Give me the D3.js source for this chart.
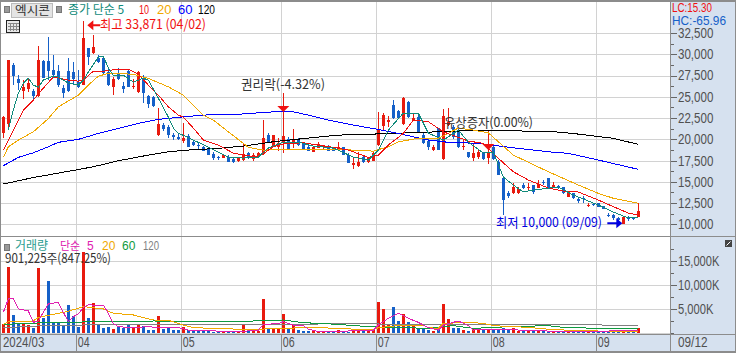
<!DOCTYPE html>
<html>
<head>
<meta charset="utf-8">
<style>
  html, body { margin: 0; padding: 0; background: #fff; overflow: hidden; }
  svg { display: block; }
  text { font-family: "Liberation Sans", sans-serif; }
  .kr { font-family: "Noto Sans CJK KR", sans-serif; }
</style>
<script src="https://cdn.jsdelivr.net/npm/d3@7"></script>
</head>
<body>
<div id="chart"></div>
<script>
// daily candles, 128 trading days, values in won
const openPrices = [
  20730,21790,28720,27070,25660,25900,25660,25080,29190,29190,
  28130,28010,26020,28010,27900,26720,26370,30720,30130,29540,
  29540,27900,26130,27660,26250,28010,26130,25550,27070,25080,
  24960,20490,21670,21430,20490,20260,19790,20380,19670,19320,
  19080,18850,18260,17910,17790,17910,17670,17440,17560,18380,
  17670,17910,18260,20490,19200,19080,19550,20020,19670,20020,
  19550,19080,18500,18970,19080,19080,18970,18970,19080,18140,
  16970,16850,17910,17320,17440,19320,21550,22020,24020,23310,
  21790,24370,22260,22610,20490,19790,18730,21320,17670,21670,
  21430,21080,19080,18500,17790,17910,18380,17790,19080,17320,
  15440,13680,13680,13680,14620,14270,14620,14270,14970,15440,
  14380,14500,14380,13210,13680,12970,13090,12150,12385,12500,
  12150,11090,11090,10740,10000,10860,10740,10860];
const highPrices = [
  22730,29310,28950,27540,26960,27070,25900,30950,29310,32010,
  29890,28720,26370,29540,29070,28130,33871,30720,32240,29890,
  29780,28370,27310,28370,26720,28250,27070,28010,27540,25190,
  25080,23660,21900,21670,20730,20730,21900,20610,19790,19550,
  19200,18970,18500,18030,18140,18140,17910,17910,19550,18500,
  18380,18500,22260,20730,20490,20140,25430,20260,21200,20140,
  19670,19320,19200,19670,19320,19320,19080,19670,19080,18380,
  17910,18500,18030,17910,18500,23200,23080,22730,24610,23430,
  24960,24490,23080,23080,20730,20140,19320,21320,23550,23660,
  21670,21200,20020,18500,19440,18730,18500,21080,19320,17560,
  15440,13910,14850,14380,14850,14850,14620,15210,15210,15440,
  14970,14620,14380,13910,13680,13090,13320,12500,12500,12500,
  12150,11330,11210,10860,10860,10975,10860,12500];
const lowPrices = [
  20140,21320,26370,25780,24720,25550,24610,24960,27190,26960,
  27190,26130,24840,25550,26370,26020,26370,28720,30010,28950,
  27660,26250,25190,26960,25430,26130,25900,25430,24250,23660,
  23780,20380,20960,20140,19910,19910,19550,19080,19200,18850,
  18610,18140,17560,17560,17790,17320,17200,17320,17440,17670,
  17440,17790,18140,19550,19080,18610,18380,18730,18970,19200,
  18850,18610,18500,18970,18730,18610,18610,18610,18140,17200,
  16500,16730,17200,17200,17440,19200,20960,21430,22380,22380,
  21670,22490,22140,20730,19440,18730,18610,18730,17560,21550,
  20020,18970,18730,17790,17440,17670,17560,17090,17560,15790,
  11090,13090,13560,13560,14150,14030,13560,14270,14620,14150,
  14270,14150,13560,13210,12970,12500,12500,12030,12150,12030,
  11800,10860,10505,10390,10000,10390,10505,10860];
const closePrices = [
  22610,29310,27430,26600,26130,26600,25080,29310,27190,28010,
  27540,26370,25430,25660,27070,26130,31890,29660,30830,29070,
  27780,26370,27070,27070,25900,26130,26250,27900,25430,24130,
  23900,21790,21200,20490,20260,20020,20140,19080,19320,19200,
  18610,18140,17790,17790,18140,17320,17320,17790,18260,17790,
  18140,18380,20140,19550,20490,19550,20380,18730,19910,19320,
  18850,18610,19080,19440,19320,18610,18610,19080,18140,17200,
  17200,17320,17320,17790,18380,21080,22840,22260,22490,22490,
  24840,22610,22490,20730,19550,19080,19080,18730,22730,22020,
  20260,19080,19200,17910,18380,18500,17670,18380,17670,15790,
  12850,13320,14380,14150,14270,14380,13800,14740,14850,14150,
  14620,14270,13680,13680,13090,12740,12970,12270,12270,12030,
  11800,10975,10740,10505,10860,10620,10620,11530];

// volume in thousands of shares
const volumes = [
  1750,13800,3700,1960,1890,1610,1050,13580,3150,10850,
  1960,2170,1610,5810,3570,1190,16940,3080,6160,1610,
  1050,1190,770,1260,910,1750,1050,1750,1330,560,
  560,3500,770,1050,630,630,1190,630,350,350,
  490,490,210,210,280,280,280,280,1750,350,
  420,350,7070,770,840,910,3920,840,1890,560,
  350,420,350,210,210,210,210,560,210,210,
  840,420,420,420,630,6440,4970,1680,5390,2450,
  3920,2240,1470,1050,770,560,350,910,6020,2870,
  980,1050,560,350,980,910,700,840,700,630,
  910,560,910,350,350,420,420,560,560,210,
  200,150,200,200,200,150,150,100,100,150,
  100,100,100,100,200,100,100,901];

// moving averages at the days where they bend
const ma5Days = [1,2,3,4,5,6,7,8,10,11,13,15,16,17,19,20,21,22,24,26,28,29,31,33,34,35,38,41,43,45,48,51,53,56,59,62,66,70,73,75,77,80,83,85,88,91,93,96,98,100,102,104,106,111,114,119,122,125,127];
const ma5Values = [21080,23430,25430,26600,27190,26370,26130,26960,27430,27310,26600,26370,26960,27900,29660,29780,28370,27540,27540,26720,27190,26960,24840,22610,21320,20730,19910,19080,18500,17910,17790,17910,18970,19670,19670,19200,18970,17910,17560,18730,21080,23080,23080,20730,19910,21080,19670,18380,18500,15560,14620,13800,14030,14380,13440,12270,11450,10740,10860];
const ma10Days = [0,2,4,6,8,10,13,15,16,18,20,23,25,27,29,31,33,35,36,38,40,43,46,48,51,54,56,60,63,66,69,73,75,77,80,82,85,88,93,96,99,102,105,109,112,115,119,122,125,127];
const ma10Values = [18730,21080,23430,24610,26020,27340,26960,26840,26960,28010,28010,28250,28250,27660,26370,25190,23820,22840,22610,21320,19910,19320,18380,18140,17910,19120,19440,19590,19320,19050,18730,17870,18140,19320,20690,22260,22060,20880,19790,19520,17760,16180,15210,14270,13910,13800,12860,12070,11330,11090];
const ma20Days = [0,1,3,6,9,11,15,17,19,21,26,29,33,36,37,40,42,45,48,49,52,60,67,74,77,79,83,87,91,94,97,99,102,109,115,119,122,127];
const ma20Values = [17870,19120,19910,20880,22430,23820,25190,26370,27430,27740,27660,27160,26170,25190,24610,22840,22260,20880,19520,19050,18730,18810,18810,18610,19120,19710,20110,20110,21320,21080,20760,19710,18140,16180,14620,13640,13060,12470];
const ma60Days = [0,3,6,9,11,15,19,23,27,31,36,41,47,54,58,61,65,70,75,79,82,85,89,95,102,109,113,119,127];
const ma60Values = [16890,17870,18410,19120,19640,19990,20690,21280,21870,22340,22640,22880,22940,23230,23230,22840,22260,21670,21160,20690,20290,19910,19640,19520,19000,18530,18340,17560,16460];
const ma120Days = [0,6,15,18,23,29,33,37,43,48,54,61,67,74,81,87,96,102,111,115,122,127];
const ma120Values = [14740,15500,16440,16770,17470,18140,18530,18730,18930,19200,19710,20140,20490,20610,20760,20880,21080,21000,20850,20610,20110,19400];

// volume moving averages
const volMa5Days = [0,1,2,3,4,5,6,7,8,9,11,12,13,14,15,16,17,20,21,22,23,26,29,31,35,37,40,48,49,51,52,55,56,58,60,61,63,69,70,74,75,77,79,81,83,85,87,88,91,93,94,97,102,104,109,119,127];
const volMa5Values = [4270,7070,7210,4970,4760,4550,2170,2450,4270,6020,6370,4270,2310,3360,3920,5320,5810,5740,4060,1960,1260,1050,1260,1050,1050,560,420,210,420,560,1750,1890,2310,1610,1470,770,210,350,490,490,1610,3010,4060,3010,2170,1050,560,1610,2450,1470,560,630,700,420,350,280,560];
const volMa20Days = [0,1,6,7,11,13,16,20,22,26,30,33,36,38,48,52,55,58,62,68,71,74,75,80,84,85,87,88,94,97,98,105,110,119,127];
const volMa20Values = [1750,2310,2450,3220,4060,4480,5460,4970,4060,3710,2660,2590,1610,1050,700,770,910,980,1120,840,700,630,1050,1610,1610,1050,910,1960,2170,1750,1470,1120,630,350,350];
const volMa60Days = [0,6,8,15,18,22,26,30,48,52,56,58,60,67,70,75,85,90,94,97,101,109,112,119,127];
const volMa60Values = [1750,1960,2170,2170,2450,2310,2240,2450,2310,2590,2660,2380,2100,1750,1470,1190,910,1470,910,1050,1260,1470,1120,910,840];
const volMa120Days = [0,8,16,23,32,48,56,70,80,97,119,120,127];
const volMa120Values = [1050,1470,1610,1750,1610,1750,1750,1890,1750,1750,1750,1540,1470];

// axis labels
const priceTicks = [10000,12500,15000,17500,20000,22500,25000,27500,30000,32500];
const priceMinorTicks = [11250,13750,16250,18750,21250,23750,26250,28750,31250];
const volumeTicks = [5000,10000,15000];
const volumeMinorTicks = [2500,7500,12500,17500];
const monthStartDays = [0,15,36,56,75,98,119];
const monthLabels = ['2024/03','04','05','06','07','08','09'];
const lastDate = '09/12';

const CONFIG = {
    WIDTH: 736,
    HEIGHT: 353,
    AXIS_X: 670,        // left edge of the right axis panel
    PANE_SPLIT: 236,    // line between price and volume panes
    DATE_TOP: 334,

    UP_COLOR: '#e81a0e',
    DOWN_COLOR: '#1560c8',
    PANEL_COLOR: '#d6e1ef',
    GRID_COLOR: '#d2d2d2',
    FRAME_COLOR: '#8c8c8c',
    TEXT_COLOR: '#505050',
};

// scales
const x = d3.scaleLinear().domain([0, 127]).range([3.33, 638.33]);
const yPrice = d3.scaleLinear().domain([10000, 32500]).range([224.3, 33]);
const yVolume = d3.scaleLinear().domain([0, 15000]).range([332.7, 261]);

const svg = d3.select('#chart').append('svg')
  .attr('width', CONFIG.WIDTH)
  .attr('height', CONFIG.HEIGHT);

const days = d3.range(openPrices.length);

drawPanels();
drawGrid();
drawCandles();
drawVolume();
drawMovingAverages();
drawAxes();
drawLegends();
drawNotes();
drawFrame();

function pixel(v) {
    return Math.round(v) + 0.5;
}

function drawPanels() {
    svg.append('rect').attr('x', CONFIG.AXIS_X).attr('y', 0)
      .attr('width', CONFIG.WIDTH - CONFIG.AXIS_X).attr('height', CONFIG.HEIGHT)
      .attr('fill', CONFIG.PANEL_COLOR);
    svg.append('rect').attr('x', 0).attr('y', CONFIG.DATE_TOP)
      .attr('width', CONFIG.WIDTH).attr('height', CONFIG.HEIGHT - CONFIG.DATE_TOP)
      .attr('fill', CONFIG.PANEL_COLOR);
}

function drawGrid() {
    const grid = svg.append('g').attr('stroke', CONFIG.GRID_COLOR).attr('shape-rendering', 'crispEdges');

    grid.selectAll('line.price').data(priceTicks).join('line')
      .attr('class', 'price')
      .attr('x1', 0).attr('x2', CONFIG.AXIS_X)
      .attr('y1', d => pixel(yPrice(d))).attr('y2', d => pixel(yPrice(d)));

    grid.selectAll('line.volume').data([0].concat(volumeTicks)).join('line')
      .attr('class', 'volume')
      .attr('x1', 0).attr('x2', CONFIG.AXIS_X)
      .attr('y1', d => pixel(yVolume(d))).attr('y2', d => pixel(yVolume(d)));

    // month lines, the month starts between two candles
    grid.selectAll('line.month').data(monthStartDays.slice(1)).join('line')
      .attr('class', 'month')
      .attr('x1', d => pixel(x(d) - 2)).attr('x2', d => pixel(x(d) - 2))
      .attr('y1', 0).attr('y2', CONFIG.DATE_TOP);
}

function drawCandles() {
    const candles = svg.append('g').attr('shape-rendering', 'crispEdges');
    const color = i => closePrices[i] >= openPrices[i] ? CONFIG.UP_COLOR : CONFIG.DOWN_COLOR;

    // wick
    candles.selectAll('line').data(days).join('line')
      .attr('x1', i => Math.floor(x(i)) + 0.5)
      .attr('x2', i => Math.floor(x(i)) + 0.5)
      .attr('y1', i => Math.round(yPrice(highPrices[i])))
      .attr('y2', i => Math.round(yPrice(lowPrices[i])))
      .attr('stroke', color);

    // body
    candles.selectAll('rect').data(days).join('rect')
      .attr('x', i => Math.floor(x(i)) - 1)
      .attr('width', 3)
      .attr('y', i => Math.round(yPrice(Math.max(openPrices[i], closePrices[i]))))
      .attr('height', i => Math.max(1, Math.round(Math.abs(yPrice(openPrices[i]) - yPrice(closePrices[i])))))
      .attr('fill', color);
}

function drawVolume() {
    svg.append('g').attr('shape-rendering', 'crispEdges')
      .selectAll('rect').data(days).join('rect')
      .attr('x', i => Math.floor(x(i)) - 1)
      .attr('width', 3)
      .attr('y', i => Math.round(yVolume(volumes[i])))
      .attr('height', i => Math.max(1, Math.round(yVolume(0)) - Math.round(yVolume(volumes[i]))))
      .attr('fill', i => closePrices[i] >= openPrices[i] ? CONFIG.UP_COLOR : CONFIG.DOWN_COLOR);
}

function drawLine(dayList, values, y, color) {
    const line = d3.line().x(i => x(dayList[i])).y(i => y(values[i]));
    svg.append('path')
      .attr('d', line(d3.range(dayList.length)))
      .attr('fill', 'none')
      .attr('stroke', color)
      .attr('stroke-width', 1)
      .attr('shape-rendering', 'crispEdges');
}

function drawMovingAverages() {
    drawLine(ma120Days, ma120Values, yPrice, '#000000');
    drawLine(ma60Days, ma60Values, yPrice, '#0000ff');
    drawLine(ma20Days, ma20Values, yPrice, '#f0a800');
    drawLine(ma10Days, ma10Values, yPrice, '#f01010');
    drawLine(ma5Days, ma5Values, yPrice, '#0f8a7a');

    drawLine(volMa120Days, volMa120Values, yVolume, '#808080');
    drawLine(volMa60Days, volMa60Values, yVolume, '#0f9a40');
    drawLine(volMa20Days, volMa20Values, yVolume, '#f0a800');
    drawLine(volMa5Days, volMa5Values, yVolume, '#e020b0');
}

function drawAxes() {
    const axisLeft = CONFIG.AXIS_X + 1;

    // reference digits are tall and narrow, so squeeze them to about 6px a character
    function squeeze(sel) {
        sel.attr('fill', CONFIG.TEXT_COLOR)
          .style('font-size', '14px')
          .attr('lengthAdjust', 'spacingAndGlyphs')
          .attr('textLength', function () { return this.textContent.length * 5.9; });
    }

    function styleAxis(g) {
        g.select('.domain').remove();
        g.selectAll('line').attr('stroke', '#666').attr('shape-rendering', 'crispEdges');
        g.selectAll('text').call(squeeze);
    }

    svg.append('g').attr('transform', `translate(${axisLeft},0)`)
      .call(d3.axisRight(yPrice).tickValues(priceTicks).tickSize(6).tickPadding(1).tickFormat(d3.format(',')))
      .call(styleAxis);
    svg.append('g').attr('transform', `translate(${axisLeft},0)`)
      .call(d3.axisRight(yPrice).tickValues(priceMinorTicks).tickSize(3).tickFormat(''))
      .call(styleAxis);

    svg.append('g').attr('transform', `translate(${axisLeft},0)`)
      .call(d3.axisRight(yVolume).tickValues(volumeTicks).tickSize(6).tickPadding(1).tickFormat(d => d3.format(',')(d) + 'K'))
      .call(styleAxis);
    svg.append('g').attr('transform', `translate(${axisLeft},0)`)
      .call(d3.axisRight(yVolume).tickValues(volumeMinorTicks.concat([0])).tickSize(3).tickFormat(''))
      .call(styleAxis);

    // date axis
    const dateAxis = svg.append('g');
    dateAxis.selectAll('line').data(monthStartDays.slice(1)).join('line')
      .attr('x1', d => pixel(x(d) - 2)).attr('x2', d => pixel(x(d) - 2))
      .attr('y1', CONFIG.DATE_TOP).attr('y2', CONFIG.HEIGHT - 2)
      .attr('stroke', CONFIG.FRAME_COLOR)
      .attr('shape-rendering', 'crispEdges');

    dateAxis.selectAll('text').data(monthStartDays).join('text')
      .attr('x', d => d === 0 ? 3 : x(d) - 0.5)
      .attr('y', 347)
      .text((d, i) => monthLabels[i])
      .call(squeeze);

    dateAxis.append('text').attr('x', 678).attr('y', 347)
      .text(lastDate)
      .call(squeeze);
}

function addText(str, px, py, color, size, cls, fit) {
    const t = svg.append('text')
      .attr('x', px).attr('y', py)
      .attr('fill', color)
      .style('font-size', size + 'px')
      .text(str);
    if (cls) t.attr('class', cls);
    if (fit) t.attr('textLength', fit).attr('lengthAdjust', 'spacingAndGlyphs');
    return t;
}

function drawLegends() {
    // gray squares
    [[4, 3], [56, 3], [4, 241]].forEach(p => {
        svg.append('rect').attr('x', p[0]).attr('y', p[1] + 3).attr('width', 5).attr('height', 6)
          .attr('fill', '#999').attr('stroke', '#777').attr('shape-rendering', 'crispEdges');
    });

    // stock name button
    svg.append('rect').attr('x', 11.5).attr('y', 3.5).attr('width', 41).attr('height', 14)
      .attr('fill', '#e4e4e4').attr('stroke', '#bbbbbb').attr('shape-rendering', 'crispEdges');
    addText('엑시콘', 15, 15, '#333333', 12, 'kr', 35);

    addText('종가 단순 5', 68, 14, '#0f8a7a', 12, 'kr');
    addText('10', 139, 14, '#f01010', 13, null, 10);
    addText('20', 157, 14, '#f0a800', 13);
    addText('60', 178, 14, '#0000ff', 13);
    addText('120', 198, 14, '#000000', 13, null, 17);

    addText('거래량', 15, 250, '#2a9d8f', 12, 'kr');
    addText('단순', 60, 250, '#e020b0', 11, 'kr');
    addText('5', 87, 250, '#e020b0', 12);
    addText('20', 102, 250, '#f0a800', 12);
    addText('60', 122, 250, '#0f9a40', 12);
    addText('120', 143, 250, '#808080', 12, null, 16);
    addText('901,225주(847.25%)', 5, 263, '#333333', 13, 'kr', 106);

    addText('LC:15.30', 672, 12, '#f01010', 13, null, 40);
    addText('HC:-65.96', 672, 25, '#1560c8', 13, null, 54);

    // table icon
    svg.append('rect').attr('x', 6.5).attr('y', 20.5).attr('width', 13).attr('height', 12)
      .attr('fill', '#e8e8e8').attr('stroke', '#222').attr('shape-rendering', 'crispEdges');
    [10.5, 13.5, 16.5].forEach(px => {
        svg.append('line').attr('x1', px).attr('x2', px).attr('y1', 23).attr('y2', 31)
          .attr('stroke', '#888').attr('shape-rendering', 'crispEdges');
    });
    [23.5, 26.5, 29.5].forEach(py => {
        svg.append('line').attr('x1', 8).attr('x2', 19).attr('y1', py).attr('y2', py)
          .attr('stroke', '#888').attr('shape-rendering', 'crispEdges');
    });

    // small maximize button on the volume pane
    svg.append('rect').attr('x', 725).attr('y', 240).attr('width', 7).attr('height', 7).attr('fill', '#444');
    svg.append('line').attr('x1', 726.5).attr('x2', 730.5).attr('y1', 245.5).attr('y2', 241.5)
      .attr('stroke', '#fff');
}

function drawNotes() {
    // high marker
    const hx = x(16), hy = yPrice(33871) + 4;
    svg.append('path').attr('d', `M${hx + 4},${hy}l6,-5v4h7v2h-7v4z`).attr('fill', '#f01010');
    addText('최고 33,871 (04/02)', 100, 29, '#f01010', 13, 'kr', 106);

    // low marker
    const lx = x(124), ly = yPrice(10000) - 1;
    svg.append('path').attr('d', `M${lx - 1},${ly}l-6,-5v4h-9v2h9v4z`).attr('fill', '#0000e0');
    addText('최저 10,000 (09/09)', 496, 227, '#0000e0', 13, 'kr', 106);

    // ex-rights note
    svg.append('path').attr('d', `M${x(56) - 6},106h12l-6,6z`).attr('fill', '#f01010');
    addText('권리락(-4.32%)', 241, 89, '#333333', 13, 'kr', 84);

    // capital increase note
    svg.append('path').attr('d', `M${x(97) - 6},144h12l-6,6z`).attr('fill', '#f01010');
    addText('유상증자(0.00%)', 444, 127, '#333333', 13, 'kr', 89);
}

function drawFrame() {
    const frame = svg.append('g').attr('fill', CONFIG.FRAME_COLOR).attr('shape-rendering', 'crispEdges');
    frame.append('rect').attr('x', 0).attr('y', 0).attr('width', CONFIG.WIDTH).attr('height', 2);
    frame.append('rect').attr('x', 0).attr('y', 0).attr('width', 1).attr('height', CONFIG.HEIGHT);
    frame.append('rect').attr('x', 0).attr('y', CONFIG.HEIGHT - 2).attr('width', CONFIG.WIDTH).attr('height', 2);
    frame.append('rect').attr('x', CONFIG.WIDTH - 1).attr('y', 0).attr('width', 1).attr('height', CONFIG.HEIGHT);
    frame.append('rect').attr('x', CONFIG.AXIS_X).attr('y', 0).attr('width', 1).attr('height', CONFIG.HEIGHT);
    frame.append('rect').attr('x', 0).attr('y', CONFIG.PANE_SPLIT).attr('width', CONFIG.WIDTH).attr('height', 1);
    frame.append('rect').attr('x', 0).attr('y', CONFIG.DATE_TOP).attr('width', CONFIG.WIDTH).attr('height', 1);
}
</script>
</body>
</html>
